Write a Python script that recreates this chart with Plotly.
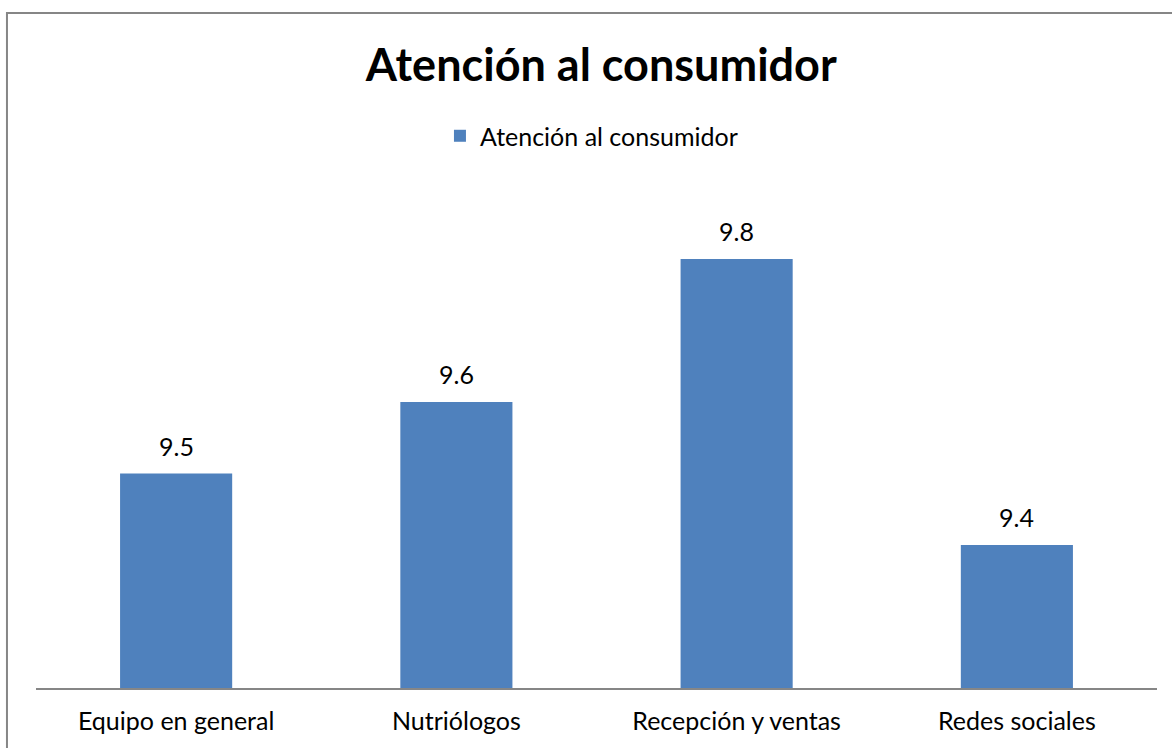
import plotly.graph_objects as go

categories = ["Equipo en general", "Nutriólogos", "Recepción y ventas", "Redes sociales"]
scores = [9.5, 9.6, 9.8, 9.4]
series_name = "Atención al consumidor"
chart_title = "Atención al consumidor"

FONT = "Lato"
BAR_COLOR = "#4F81BD"

fig = go.Figure()
fig.add_trace(go.Bar(
    x=categories,
    y=scores,
    name=series_name,
    marker=dict(color=BAR_COLOR, line=dict(width=0)),
    width=0.4,
    showlegend=True,
))

# value labels above each bar
for cat, val in zip(categories, scores):
    fig.add_annotation(
        x=cat, y=val, text=f"{val:.1f}", showarrow=False,
        yanchor="bottom", yshift=11,
        font=dict(family=FONT, size=25, color="#000000"),
    )

# outer chart border
fig.add_shape(
    type="rect", xref="paper", yref="paper",
    x0=-0.0259, x1=1.2, y0=-0.3, y1=1.1801,
    line=dict(color="#868686", width=2), fillcolor="rgba(0,0,0,0)",
    layer="below",
)

fig.update_layout(
    width=1172, height=748,
    margin=dict(l=36, r=15, t=116, b=60, autoexpand=False),
    paper_bgcolor="white", plot_bgcolor="white",
    title=dict(
        text=f"<b>{chart_title}</b>", x=0.513, xanchor="center",
        y=0.913, yanchor="middle",
        font=dict(family=FONT, size=45, color="#000000"),
    ),
    legend=dict(
        orientation="h", x=0.4955, xanchor="center", y=0.965, yanchor="middle",
        yref="paper", font=dict(family=FONT, size=25, color="#000000"),
        bgcolor="rgba(0,0,0,0)",
    ),
    xaxis=dict(
        showline=True, linecolor="#868686", linewidth=2,
        ticks="", tickfont=dict(family=FONT, size=25, color="#000000"),
        showgrid=False, ticklabelstandoff=10,
    ),
    yaxis=dict(
        range=[9.2, 10.0], visible=False, showgrid=False, zeroline=False,
    ),
    bargap=0.6,
)

fig.write_html("out.html")
